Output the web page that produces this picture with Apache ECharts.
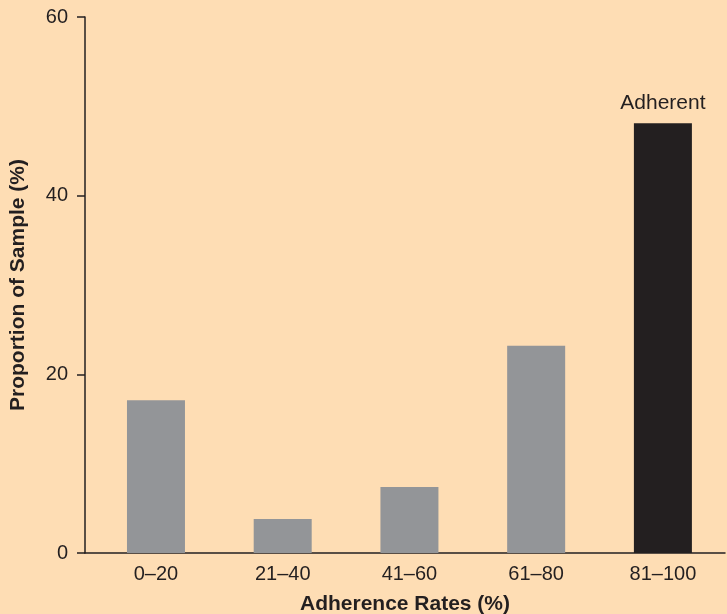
<!DOCTYPE html>
<html>
<head>
<meta charset="utf-8">
<script src="https://cdn.jsdelivr.net/npm/echarts@6/dist/echarts.min.js"></script>
<style>
html,body{margin:0;padding:0;background:#FEDDB4;}
#chart{width:727px;height:614px;}
</style>
</head>
<body>
<div id="chart"></div>
<script>
var categories = ['0\u201320', '21\u201340', '41\u201360', '61\u201380', '81\u2013100'];
var values = [17.1, 3.8, 7.4, 23.2, 48.1];
var barColors = ['#939598', '#939598', '#939598', '#939598', '#231F20'];
var barLabels = ['', '', '', '', 'Adherent'];
var yTicks = [0, 20, 40, 60];
var xTitle = 'Adherence Rates (%)';
var yTitle = 'Proportion of Sample (%)';

var font = 'Liberation Sans, Arial, Helvetica, sans-serif';
var chart = echarts.init(document.getElementById('chart'));
var idx = categories.map(function (c, i) { return i; });
chart.setOption({
  backgroundColor: '#FEDDB4',
  animation: false,
  grid: { left: 85, right: 2, top: 17, bottom: 61, containLabel: false, outerBoundsMode: 'none' },
  xAxis: {
    type: 'value',
    min: -0.56,
    max: 4.49,
    splitLine: { show: false },
    axisLine: { show: true, onZero: false, lineStyle: { color: '#231F20', width: 1.5 } },
    axisTick: { show: false },
    axisLabel: {
      customValues: idx,
      formatter: function (v) { return categories[Math.round(v)]; },
      color: '#231F20', fontSize: 20, fontFamily: font, margin: 11
    },
    name: xTitle,
    nameLocation: 'middle',
    nameGap: 41,
    nameTextStyle: { color: '#231F20', fontSize: 21, fontWeight: 'bold', fontFamily: font }
  },
  yAxis: {
    type: 'value',
    min: 0,
    max: 60,
    interval: 20,
    splitLine: { show: false },
    axisLine: { show: true, onZero: false, lineStyle: { color: '#231F20', width: 1.5 } },
    axisTick: { show: true, length: 8, lineStyle: { color: '#231F20', width: 1.5 } },
    axisLabel: { color: '#231F20', fontSize: 20, fontFamily: font, margin: 17,
      customValues: yTicks },
    name: yTitle,
    nameLocation: 'middle',
    nameGap: 56,
    nameTextStyle: { color: '#231F20', fontSize: 21, fontWeight: 'bold', fontFamily: font }
  },
  series: [{
    type: 'bar',
    barWidth: 58,
    data: values.map(function (v, i) {
      return {
        value: [i, v],
        itemStyle: { color: barColors[i] },
        label: {
          show: barLabels[i] !== '',
          position: 'top',
          distance: 10,
          formatter: barLabels[i],
          color: '#231F20',
          fontSize: 21,
          fontFamily: font
        }
      };
    })
  }]
});
</script>
</body>
</html>
